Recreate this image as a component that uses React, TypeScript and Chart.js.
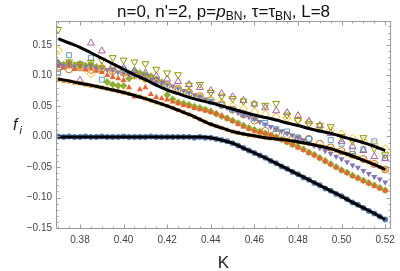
import React, { useEffect, useRef } from 'react';
import { Chart, registerables } from 'chart.js';

Chart.register(...registerables);

// K grid for the dense (filled) series
const K = [0.37, 0.3725, 0.375, 0.3775, 0.38, 0.3825, 0.385, 0.3875, 0.39, 0.3925, 0.395, 0.3975, 0.4, 0.4025, 0.405, 0.4075, 0.41, 0.4125, 0.415, 0.4175, 0.42, 0.4225, 0.425, 0.4275, 0.43, 0.4325, 0.435, 0.4375, 0.44, 0.4425, 0.445, 0.4475, 0.45, 0.4525, 0.455, 0.4575, 0.46, 0.4625, 0.465, 0.4675, 0.47, 0.4725, 0.475, 0.4775, 0.48, 0.4825, 0.485, 0.4875, 0.49, 0.4925, 0.495, 0.4975, 0.5, 0.5025, 0.505, 0.5075, 0.51, 0.5125, 0.515, 0.5175, 0.52];
// K grid for open series and curves
const K2 = [0.37, 0.375, 0.38, 0.385, 0.39, 0.395, 0.4, 0.405, 0.41, 0.415, 0.42, 0.425, 0.43, 0.435, 0.44, 0.445, 0.45, 0.455, 0.46, 0.465, 0.47, 0.475, 0.48, 0.485, 0.49, 0.495, 0.5, 0.505, 0.51, 0.515, 0.52];

const xTicks = [0.38, 0.4, 0.42, 0.44, 0.46, 0.48, 0.5, 0.52];
const xTickLabels = ['0.38', '0.40', '0.42', '0.44', '0.46', '0.48', '0.50', '0.52'];
const yTicks = [-0.15, -0.1, -0.05, 0, 0.05, 0.1, 0.15];
const yTickLabels = ['\u22120.15', '\u22120.10', '\u22120.05', '0.00', '0.05', '0.10', '0.15'];

// black fit curves (on K2)
const topCurve = [0.160, 0.153, 0.146, 0.137, 0.128, 0.119, 0.110, 0.101, 0.093, 0.084, 0.076, 0.070, 0.064, 0.059, 0.055, 0.050, 0.045, 0.040, 0.035, 0.031, 0.027, 0.022, 0.018, 0.013, 0.009, 0.005, 0.000, -0.005, -0.010, -0.016, -0.023];
const midCurve = [0.094, 0.091, 0.087, 0.084, 0.080, 0.076, 0.072, 0.067, 0.062, 0.056, 0.050, 0.043, 0.036, 0.028, 0.020, 0.014, 0.008, 0.004, 0.001, -0.002, -0.004, -0.006, -0.009, -0.012, -0.016, -0.020, -0.026, -0.032, -0.039, -0.046, -0.054];
const lowCurve = [-0.001, -0.001, -0.001, -0.001, -0.001, -0.001, -0.001, -0.001, -0.001, -0.001, -0.001, -0.001, -0.001, -0.001, -0.002, -0.006, -0.011, -0.019, -0.027, -0.035, -0.044, -0.053, -0.062, -0.071, -0.080, -0.089, -0.098, -0.108, -0.117, -0.126, -0.136];

// filled series (on K)
const blueCircles = [0.000, -0.001, 0.000, -0.001, -0.001, 0.000, -0.001, -0.001, 0.000, -0.001, -0.001, -0.001, 0.000, -0.001, -0.001, -0.001, -0.001, 0.000, -0.001, -0.001, -0.001, -0.001, -0.001, -0.001, -0.001, -0.002, -0.001, -0.002, -0.002, -0.004, -0.006, -0.008, -0.011, -0.015, -0.019, -0.023, -0.027, -0.031, -0.035, -0.040, -0.044, -0.049, -0.053, -0.058, -0.062, -0.067, -0.071, -0.076, -0.080, -0.085, -0.089, -0.094, -0.098, -0.103, -0.108, -0.112, -0.117, -0.122, -0.126, -0.131, -0.136];
const orangeSquares = [0.093, 0.091, 0.090, 0.088, 0.087, 0.085, 0.083, 0.082, 0.080, 0.078, 0.076, 0.074, 0.072, 0.070, 0.067, 0.065, 0.062, 0.059, 0.056, 0.053, 0.050, 0.047, 0.043, 0.040, 0.036, 0.032, 0.028, 0.024, 0.020, 0.017, 0.014, 0.011, 0.008, 0.006, 0.004, 0.002, 0.001, 0.000, -0.002, -0.003, -0.004, -0.005, -0.006, -0.008, -0.009, -0.010, -0.012, -0.014, -0.016, -0.018, -0.020, -0.023, -0.026, -0.029, -0.032, -0.035, -0.039, -0.042, -0.046, -0.050, -0.054];
const greenDiamonds = [0.120, 0.118, 0.121, 0.117, 0.119, 0.116, 0.118, 0.114, 0.112, 0.089, 0.085, 0.083, 0.083, 0.095, 0.107, 0.104, 0.101, 0.099, 0.094, 0.089, 0.068, 0.061, 0.056, 0.054, 0.052, 0.049, 0.047, 0.044, 0.041, 0.037, 0.033, 0.030, 0.026, 0.022, 0.018, 0.014, 0.011, 0.008, 0.005, 0.002, -0.001, -0.005, -0.009, -0.013, -0.017, -0.021, -0.026, -0.030, -0.035, -0.040, -0.045, -0.050, -0.055, -0.059, -0.064, -0.068, -0.072, -0.076, -0.080, -0.084, -0.088];
const redTriangles = [0.115, 0.112, 0.114, 0.110, 0.113, 0.109, 0.111, 0.107, 0.105, 0.100, 0.097, 0.095, 0.092, 0.080, 0.065, 0.077, 0.080, 0.069, 0.064, 0.062, 0.060, 0.057, 0.054, 0.051, 0.049, 0.046, 0.044, 0.042, 0.040, 0.037, 0.034, 0.029, 0.025, 0.020, 0.016, 0.012, 0.009, 0.007, 0.005, 0.002, -0.002, -0.006, -0.010, -0.014, -0.018, -0.022, -0.027, -0.031, -0.036, -0.041, -0.046, -0.051, -0.056, -0.060, -0.065, -0.069, -0.073, -0.077, -0.081, -0.085, -0.089];
const purpleDown = [0.118, 0.116, 0.119, 0.115, 0.117, 0.114, 0.116, 0.113, 0.110, 0.109, 0.107, 0.105, 0.103, 0.101, 0.099, 0.097, 0.095, 0.093, 0.090, 0.088, 0.085, 0.082, 0.079, 0.075, 0.072, 0.068, 0.065, 0.061, 0.058, 0.054, 0.050, 0.047, 0.043, 0.039, 0.035, 0.032, 0.028, 0.024, 0.020, 0.016, 0.012, 0.009, 0.005, 0.002, -0.002, -0.006, -0.010, -0.015, -0.019, -0.024, -0.028, -0.033, -0.037, -0.042, -0.047, -0.051, -0.056, -0.061, -0.066, -0.070, -0.075];

// open series (on K2)
const openOrangeCircles = [0.112, 0.110, 0.113, 0.109, 0.111, 0.107, 0.104, 0.100, 0.095, 0.090, 0.084, 0.078, 0.072, 0.066, 0.059, 0.052, 0.044, 0.036, 0.026, 0.009, 0.006, 0.002, -0.003, -0.004, -0.012, -0.018, -0.024, -0.030, -0.037, -0.045, -0.054];
const openBlueSquares = [0.105, 0.133, 0.118, 0.129, 0.093, 0.115, 0.110, 0.104, 0.098, 0.090, 0.083, 0.076, 0.070, 0.064, 0.057, 0.051, 0.044, 0.037, 0.030, 0.022, 0.012, 0.008, -0.002, -0.004, 0.011, -0.006, -0.012, -0.024, -0.021, -0.008, -0.035];
const openYellowDiamonds = [0.141, 0.118, 0.115, 0.102, 0.114, 0.110, 0.105, 0.100, 0.094, 0.088, 0.082, 0.077, 0.071, 0.065, 0.060, 0.055, 0.050, 0.045, 0.040, 0.036, 0.032, 0.030, 0.027, 0.022, 0.016, 0.010, 0.004, -0.003, -0.008, -0.013, -0.020];
const openPurpleTriangles = [0.120, 0.118, 0.092, 0.153, 0.140, 0.115, 0.112, 0.108, 0.104, 0.099, 0.094, 0.090, 0.085, 0.080, 0.075, 0.070, 0.065, 0.059, 0.053, 0.047, 0.042, 0.039, 0.034, 0.025, 0.018, 0.005, -0.008, -0.016, -0.023, -0.033, -0.036];
const openOliveDown = [0.175, 0.122, 0.118, 0.121, 0.125, 0.129, 0.125, 0.122, 0.119, 0.110, 0.104, 0.101, 0.084, 0.085, 0.072, 0.066, 0.062, 0.058, 0.053, 0.051, 0.054, 0.035, 0.026, 0.021, 0.018, 0.016, 0.000, -0.008, -0.002, -0.020, -0.030];

const pts = (xs: number[], ys: number[]) => ys.map((v, i) => ({ x: xs[i], y: v }));

const FONT = "'Liberation Sans', Arial, sans-serif";

const decorPlugin = {
  id: 'decor',
  afterDraw(chart: any) {
    const { ctx, chartArea: a, scales } = chart;
    const xs = scales.x;
    const ys = scales.y;
    ctx.save();
    ctx.strokeStyle = '#9c9c9c';
    ctx.lineWidth = 1;
    ctx.strokeRect(a.left + 0.5, a.top + 0.5, a.right - a.left - 1, a.bottom - a.top - 1);
    ctx.beginPath();
    for (let i = 74; i <= 104; i++) {
      const v = i * 0.005;
      const px = Math.round(xs.getPixelForValue(v)) + 0.5;
      const len = i % 4 === 0 ? 4.5 : 2.5;
      ctx.moveTo(px, a.bottom);
      ctx.lineTo(px, a.bottom - len);
      ctx.moveTo(px, a.top);
      ctx.lineTo(px, a.top + len);
    }
    for (let j = -15; j <= 18; j++) {
      const v = j * 0.01;
      const py = Math.round(ys.getPixelForValue(v)) + 0.5;
      const len = j % 5 === 0 ? 4.5 : 2.5;
      ctx.moveTo(a.left, py);
      ctx.lineTo(a.left + len, py);
      ctx.moveTo(a.right, py);
      ctx.lineTo(a.right - len, py);
    }
    ctx.stroke();

    // title with subscripts
    const cx = (a.left + a.right) / 2;
    const base = 16.5;
    const segs = [
      { t: "n=0, n'=2, p=", f: `17px ${FONT}`, dy: 0 },
      { t: 'p', f: `italic 17px ${FONT}`, dy: 0 },
      { t: 'BN', f: `12px ${FONT}`, dy: 3.5 },
      { t: ', \u03c4=\u03c4', f: `17px ${FONT}`, dy: 0 },
      { t: 'BN', f: `12px ${FONT}`, dy: 3.5 },
      { t: ', L=8', f: `17px ${FONT}`, dy: 0 },
    ];
    let total = 0;
    for (const s of segs) {
      ctx.font = s.f;
      total += ctx.measureText(s.t).width;
    }
    let x = cx - total / 2;
    ctx.fillStyle = '#111';
    ctx.textBaseline = 'alphabetic';
    ctx.textAlign = 'left';
    for (const s of segs) {
      ctx.font = s.f;
      ctx.fillText(s.t, x, base + s.dy);
      x += ctx.measureText(s.t).width;
    }

    // x axis label
    ctx.font = `17px ${FONT}`;
    ctx.textAlign = 'center';
    ctx.fillStyle = '#222';
    ctx.fillText('K', cx, 268);

    // y axis label f_i
    ctx.textAlign = 'left';
    ctx.font = `italic 16px ${FONT}`;
    ctx.fillText('f', 13, 130);
    ctx.font = `italic 11px ${FONT}`;
    ctx.fillText('i', 19.5, 134);
    ctx.restore();
  },
};

export default function App() {
  const ref = useRef<HTMLCanvasElement | null>(null);
  useEffect(() => {
    document.body.style.margin = '0';
    const canvas = ref.current;
    if (!canvas) return;
    const curve = (data: number[]) => ({
      type: 'line' as const,
      data: pts(K2, data),
      borderColor: '#000',
      borderWidth: 3,
      pointRadius: 0,
      showLine: true,
      fill: false,
      cubicInterpolationMode: 'monotone' as const,
      order: 0,
    });
    const filled = (data: number[], xs: number[], color: string, style: string, r: number, order: number, rotation = 0) => ({
      type: 'scatter' as const,
      data: pts(xs, data),
      backgroundColor: color,
      borderColor: color,
      borderWidth: 0,
      pointStyle: style,
      pointRadius: r,
      rotation,
      order,
    });
    const open = (data: number[], color: string, style: string, r: number, order: number, rotation = 0) => ({
      type: 'scatter' as const,
      data: pts(K2, data),
      backgroundColor: 'rgba(0,0,0,0)',
      borderColor: color,
      borderWidth: 1,
      pointStyle: style,
      pointRadius: r,
      rotation,
      order,
    });
    const chart = new Chart(canvas, {
      type: 'scatter',
      data: {
        datasets: [
          curve(topCurve),
          curve(midCurve),
          curve(lowCurve),
          open(openOliveDown, '#929600', 'triangle', 4, 1, 180),
          open(openPurpleTriangles, '#A5609D', 'triangle', 4, 2),
          open(openYellowDiamonds, '#FFBF00', 'rectRot', 4, 3),
          open(openBlueSquares, '#5D9EC7', 'rect', 3.5, 4),
          open(openOrangeCircles, '#C56E1A', 'circle', 3.5, 5),
          filled(purpleDown, K, '#8778B3', 'triangle', 3.5, 6, 180),
          filled(redTriangles, K, '#EB6235', 'triangle', 3.5, 7),
          filled(greenDiamonds, K, '#8FB032', 'rectRot', 3.8, 8),
          filled(orangeSquares, K, '#E19C24', 'rect', 3, 9),
          filled(blueCircles, K, '#5E81B5', 'circle', 3, 10),
        ] as any,
      },
      options: {
        animation: false,
        responsive: false,
        maintainAspectRatio: false,
        layout: { padding: { top: 21, right: 5, left: 0, bottom: 0 } },
        plugins: { legend: { display: false }, tooltip: { enabled: false }, title: { display: false } },
        scales: {
          x: {
            type: 'linear',
            min: 0.369,
            max: 0.5227,
            grid: { display: false, drawTicks: false },
            border: { display: false },
            afterBuildTicks: (scale: any) => {
              scale.ticks = xTicks.map((v) => ({ value: v }));
            },
            afterFit: (scale: any) => {
              scale.height = 42;
            },
            ticks: {
              padding: 5,
              color: '#444',
              font: { family: FONT, size: 10 },
              maxRotation: 0,
              autoSkip: false,
              callback: (v: any) => {
                const i = xTicks.findIndex((t) => Math.abs(t - Number(v)) < 1e-6);
                return i >= 0 ? xTickLabels[i] : '';
              },
            },
          },
          y: {
            type: 'linear',
            min: -0.1515,
            max: 0.189,
            grid: { display: false, drawTicks: false },
            border: { display: false },
            afterBuildTicks: (scale: any) => {
              scale.ticks = yTicks.map((v) => ({ value: v }));
            },
            afterFit: (scale: any) => {
              scale.width = 56;
            },
            ticks: {
              padding: 4,
              color: '#444',
              font: { family: FONT, size: 10 },
              autoSkip: false,
              callback: (v: any) => {
                const i = yTicks.findIndex((t) => Math.abs(t - Number(v)) < 1e-6);
                return i >= 0 ? yTickLabels[i] : '';
              },
            },
          },
        },
      } as any,
      plugins: [decorPlugin],
    });
    return () => chart.destroy();
  }, []);
  return (
    <div style={{ width: 400, height: 271, position: 'relative' }}>
      <canvas ref={ref} width={400} height={271} style={{ display: 'block', width: 400, height: 271 }} />
    </div>
  );
}
